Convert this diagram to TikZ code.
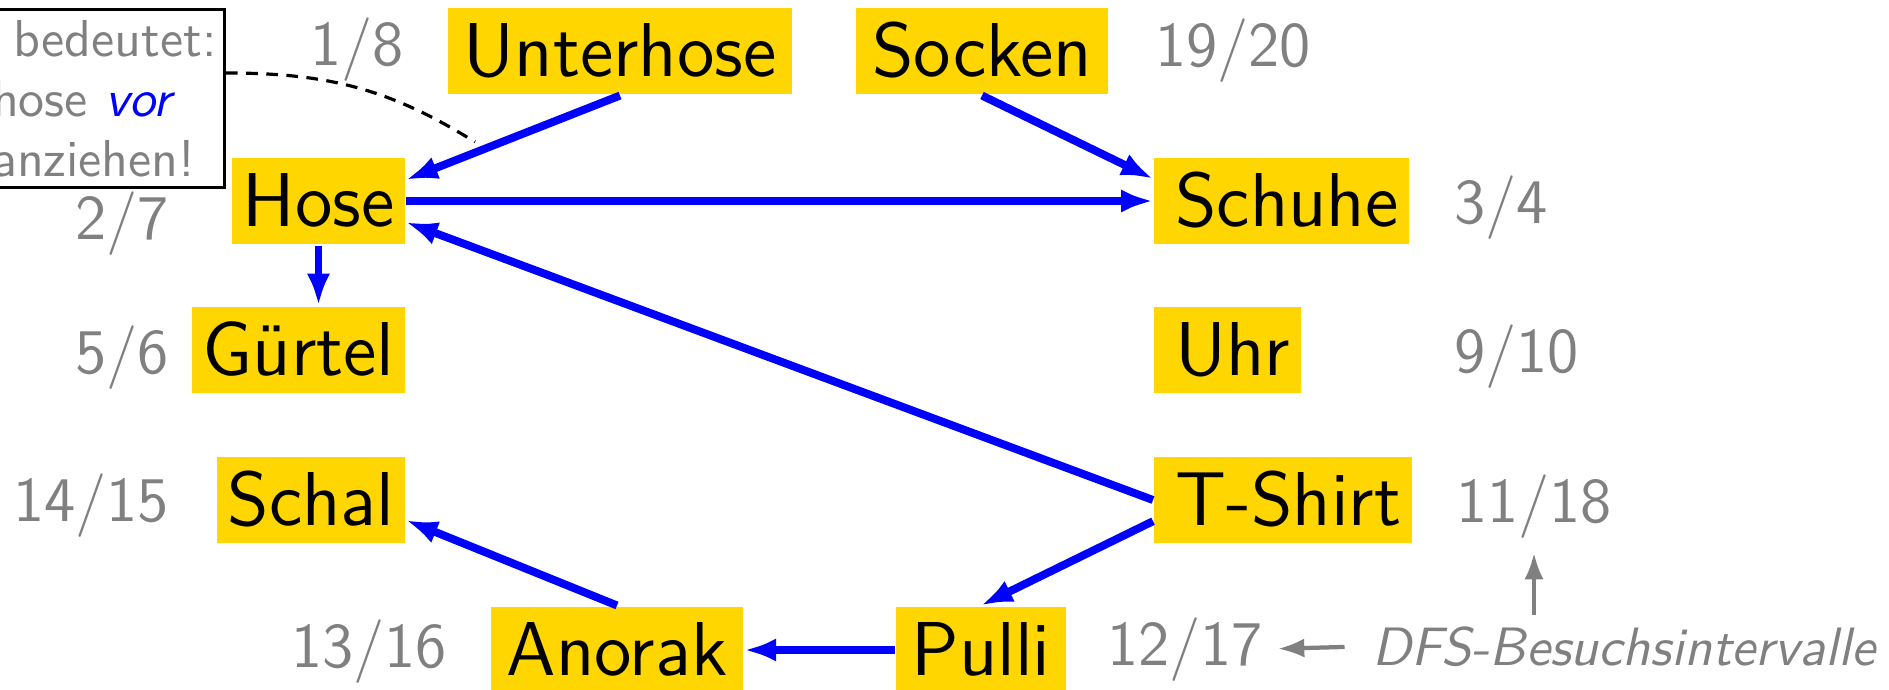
\documentclass[tikz,border=0pt]{standalone}
\usepackage{xcolor}
\usetikzlibrary{arrows.meta}
\definecolor{kastengelb}{RGB}{255,214,0}
\tikzset{
  kleid/.style={fill=kastengelb, inner xsep=2pt, inner ysep=2pt, text height=11pt, text depth=1.4pt, font=\fontsize{14.4}{17}\selectfont\sffamily},
  mitte/.style={kleid, inner xsep=3pt},
  rechts/.style={kleid, anchor=west, execute at begin node={\hspace*{2pt}}},
  links/.style={kleid, anchor=east},
  zeit/.style={text=gray, inner sep=0pt, font=\fontsize{12}{14}\selectfont\sffamily},
  folge/.style={-{Latex[length=6pt,width=4.4pt]}, blue, line width=1.5pt},
  hilfspfeil/.style={-{Latex[length=5pt,width=3.6pt]}, gray, line width=0.8pt},
  notiz/.style={draw, semithick, text=gray, align=left, inner xsep=1.5pt, inner ysep=2pt, font=\fontsize{9.8}{11.3}\selectfont\sffamily},
}

\begin{document}
\begin{tikzpicture}[x=0.1886pt,y=-0.1886pt]
\useasboundingbox (0,0) rectangle (1889,689);
% Kleidungsstuecke
\node[mitte] (unterhose) at (620,51) {Unterhose};
\node[mitte] (socken) at (982,51) {Socken};
\node[links] (hose) at (406,201) {Hose};
\node[links] (guertel) at (406,350) {G\"urtel};
\node[links] (schal) at (406,500) {Schal};
\node[rechts] (schuhe) at (1153,201) {Schuhe};
\node[rechts] (uhr) at (1153,350) {Uhr};
\node[rechts] (tshirt) at (1153,500) {T-Shirt};
\node[mitte] (anorak) at (617,650) {Anorak};
\node[mitte] (pulli) at (981,650) {Pulli};
% Besuchsintervalle
\node[zeit, anchor=base east] (z18) at (405,65) {1/8};
\node[zeit, anchor=base west] (z1920) at (1154,66) {19/20};
\node[zeit, anchor=base east] (z27) at (170,239) {2/7};
\node[zeit, anchor=base west] (z34) at (1453,223) {3/4};
\node[zeit, anchor=base east] (z56) at (170,373) {5/6};
\node[zeit, anchor=base west] (z910) at (1453,372) {9/10};
\node[zeit, anchor=base east] (z1415) at (170,521) {14/15};
\node[zeit, anchor=base west] (z1118) at (1455,522) {11/18};
\node[zeit, anchor=base east] (z1316) at (448,667) {13/16};
\node[zeit, anchor=base west] (z1217) at (1106,665) {12/17};
\node[text=gray, anchor=base west, inner sep=0pt, font=\fontsize{10.2}{12}\selectfont\sffamily\itshape] (dfs) at (1371,665) {DFS-Besuchsintervalle};
\draw[hilfspfeil, shorten <=5pt, shorten >=2.6pt] (dfs.west) -- (z1217.east);
\draw[hilfspfeil, shorten <=1.9pt, shorten >=2.6pt] (z1118.south |- dfs.north) -- (z1118.south);
% Kanten
\draw[folge] (unterhose.south) -- ([yshift=4pt]hose.east);
\draw[folge] (socken.south) -- ([yshift=4.2pt]schuhe.west);
\draw[folge] (hose) -- (schuhe);
\draw[folge] (hose.south) -- (hose.south |- guertel.north);
\draw[folge] (tshirt.west) -- ([yshift=-4pt]hose.east);
\draw[folge] ([yshift=-4pt]tshirt.west) -- (pulli.north);
\draw[folge] (anorak.north) -- ([yshift=-3.8pt]schal.east);
\draw[folge] (pulli) -- (anorak);
% Erklaerung
\node[notiz, anchor=north east] (notiz) at (226,8) {\hspace*{4pt}bedeutet:\\hose \textcolor{blue}{\itshape vor}\\anziehen!};
\coordinate (zeiger) at (475,142);
\draw[semithick, dash pattern=on 2.2pt off 1.6pt] ([yshift=4.8pt]notiz.east) to[out=0,in=148] (zeiger);
\end{tikzpicture}
\end{document}
